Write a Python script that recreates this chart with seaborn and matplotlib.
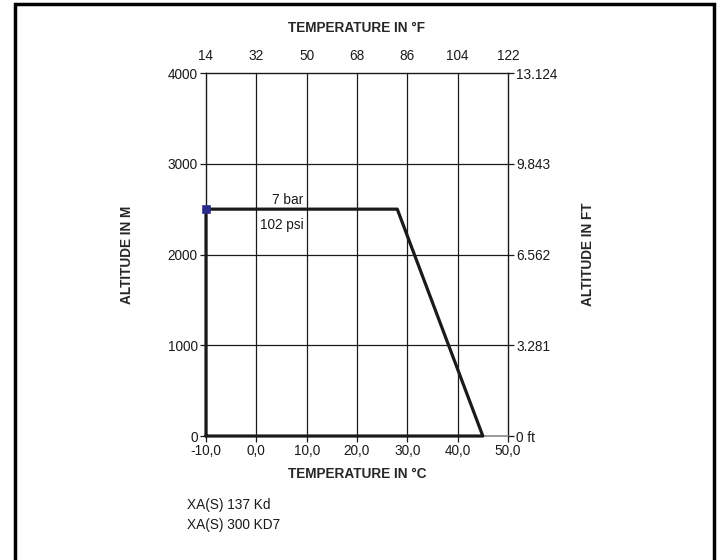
import matplotlib
matplotlib.use("Agg")
import matplotlib.pyplot as plt
import seaborn as sns
import pandas as pd
from matplotlib.patches import Rectangle

# Operating envelope: temperature (°C) vs. altitude (m)
temp_c = [-10, -10, 28, 45, -10]
altitude_m = [0, 2500, 2500, 0, 0]

celsius_ticks = [-10, 0, 10, 20, 30, 40, 50]
celsius_labels = ["-10,0", "0,0", "10,0", "20,0", "30,0", "40,0", "50,0"]
fahrenheit_labels = ["14", "32", "50", "68", "86", "104", "122"]
meter_ticks = [0, 1000, 2000, 3000, 4000]
meter_labels = ["0", "1000", "2000", "3000", "4000"]
feet_labels = ["0 ft", "3.281", "6.562", "9.843", "13.124"]

marker_temp = [-10]
marker_alt = [2500]

models = ["XA(S) 137 Kd", "XA(S) 300 KD7"]

FS = 9.8
INK = "#1a1a1a"

sns.set_theme(style="white")
plt.rcParams["font.family"] = ["Liberation Sans", "DejaVu Sans"]

fig = plt.figure(figsize=(7.17, 5.6), dpi=100)
ax = fig.add_axes([0.2873, 0.2214, 0.4212, 0.6482])

# grid
for x in celsius_ticks[1:-1]:
    ax.axvline(x, color=INK, lw=0.9, zorder=1)
for y in meter_ticks[1:-1]:
    ax.axhline(y, color=INK, lw=0.9, zorder=1)

df = pd.DataFrame({"temp": temp_c, "alt": altitude_m})
sns.lineplot(data=df, x="temp", y="alt", sort=False, estimator=None,
             color=INK, lw=2.3, ax=ax, zorder=3)
for ln in ax.lines:
    ln.set_clip_on(False)
sns.scatterplot(x=marker_temp, y=marker_alt, marker="s", s=32, color="#2b2b8c",
                edgecolor="#2b2b8c", ax=ax, zorder=4, clip_on=False)

ax.set_xlim(-10, 50)
ax.set_ylim(0, 4000)
ax.set_xticks(celsius_ticks)
ax.set_xticklabels(celsius_labels)
ax.set_yticks(meter_ticks)
ax.set_yticklabels(meter_labels)
ax.tick_params(axis="both", labelsize=FS, colors=INK, length=4, width=0.9,
               direction="out", pad=2, bottom=True, left=True)
ax.set_xlabel("TEMPERATURE IN °C", fontsize=FS, fontweight="bold")
ax.set_ylabel("ALTITUDE IN M", fontsize=FS, fontweight="bold")
ax.xaxis.set_label_coords(0.5, -0.105)
ax.yaxis.set_label_coords(-0.262, 0.5)
ax.xaxis.label.set_va("center")
ax.yaxis.label.set_va("center")

for side in ["top", "right", "left"]:
    ax.spines[side].set_color(INK)
    ax.spines[side].set_linewidth(1.0)
ax.spines["bottom"].set_color("#888888")
ax.spines["bottom"].set_linewidth(1.2)

ax.text(9.4, 2600, "7 bar", ha="right", va="center", fontsize=FS, color=INK)
ax.text(9.4, 2325, "102 psi", ha="right", va="center", fontsize=FS, color=INK)

# secondary scales
top = ax.twiny()
top.set_xlim(ax.get_xlim())
top.set_xticks(celsius_ticks)
top.set_xticklabels(fahrenheit_labels)
top.tick_params(axis="x", labelsize=FS, colors=INK, length=0, pad=7)
top.set_xlabel("TEMPERATURE IN °F", fontsize=FS, fontweight="bold")
top.xaxis.set_label_coords(0.5, 1.124)
top.xaxis.label.set_va("center")

right = ax.twinx()
right.set_ylim(ax.get_ylim())
right.set_yticks(meter_ticks)
right.set_yticklabels(feet_labels)
right.tick_params(axis="y", labelsize=FS, colors=INK, length=4, width=0.9,
                  direction="out", pad=2, right=True)
right.set_ylabel("ALTITUDE IN FT", fontsize=FS, fontweight="bold")
right.yaxis.set_label_coords(1.265, 0.5)
right.yaxis.label.set_va("center")

for a in (top, right):
    for s in a.spines.values():
        s.set_visible(False)

fig.text(187 / 717, 1 - 505 / 560, models[0], fontsize=FS, va="center", color=INK)
fig.text(187 / 717, 1 - 525 / 560, models[1], fontsize=FS, va="center", color=INK)

# outer frame
fig.patches.append(Rectangle((15 / 717, -0.02), (714 - 15) / 717, 1.02 - 4 / 560,
                             transform=fig.transFigure, fill=False, lw=2.5,
                             edgecolor="black"))

fig.savefig("out.png", dpi=100)
